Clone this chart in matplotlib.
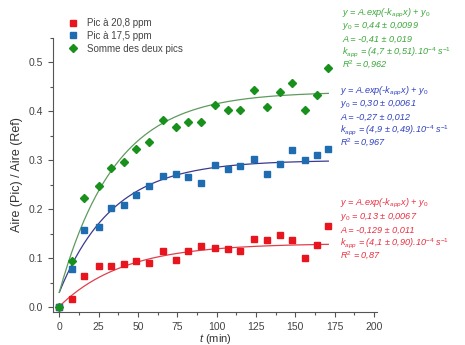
"""
Kinetics of the two NMR peaks (area ratio vs time) with exponential fits.
"""
import numpy as np
import matplotlib
matplotlib.use("Agg")
import matplotlib.pyplot as plt

plt.rcParams["font.family"] = ["Liberation Sans", "DejaVu Sans"]
plt.rcParams["mathtext.fontset"] = "custom"
plt.rcParams["mathtext.it"] = "Liberation Sans:italic"
plt.rcParams["mathtext.rm"] = "Liberation Sans"
plt.rcParams["mathtext.default"] = "it"

# Data
t_min = [0, 8, 16, 25, 33, 41, 49, 57, 66, 74, 82, 90, 99, 107, 115, 124,
         132, 140, 148, 156, 164, 171]
pic_208 = [0.0, 0.017, 0.063, 0.084, 0.084, 0.088, 0.094, 0.090, 0.114, 0.097,
           0.114, 0.125, 0.121, 0.118, 0.115, 0.139, 0.137, 0.147, 0.137,
           0.101, 0.126, 0.165]
pic_175 = [0.0, 0.077, 0.157, 0.163, 0.203, 0.209, 0.229, 0.248, 0.267, 0.271,
           0.265, 0.254, 0.291, 0.282, 0.288, 0.303, 0.271, 0.292, 0.320,
           0.301, 0.310, 0.323]
somme = [0.0, 0.094, 0.222, 0.248, 0.284, 0.296, 0.322, 0.338, 0.382, 0.368,
         0.379, 0.378, 0.412, 0.402, 0.403, 0.444, 0.408, 0.440, 0.458,
         0.403, 0.434, 0.489]

# Fit parameters y = A.exp(-k x) + y0, k in s^-1
fit_208 = dict(y0=0.13, A=-0.129, k=4.1e-4)
fit_175 = dict(y0=0.30, A=-0.27, k=4.9e-4)
fit_somme = dict(y0=0.44, A=-0.41, k=4.7e-4)

legend_labels = ["Pic à 20,8 ppm", "Pic à 17,5 ppm", "Somme des deux pics"]

txt_somme = ["y = A.exp(-k$_{app}$x) + y$_0$",
             "y$_0$ = 0,44 ± 0,0099",
             "A = -0,41 ± 0,019",
             "k$_{app}$ = (4,7 ± 0,51).10$^{-4}$ s$^{-1}$",
             "R$^2$ = 0,962"]
txt_175 = ["y = A.exp(-k$_{app}$x) + y$_0$",
           "y$_0$ = 0,30 ± 0,0061",
           "A = -0,27 ± 0,012",
           "k$_{app}$ = (4,9 ± 0,49).10$^{-4}$ s$^{-1}$",
           "R$^2$ = 0,967"]
txt_208 = ["y = A.exp(-k$_{app}$x) + y$_0$",
           "y$_0$ = 0,13 ± 0,0067",
           "A = -0,129 ± 0,011",
           "k$_{app}$ = (4,1 ± 0,90).10$^{-4}$ s$^{-1}$",
           "R$^2$ = 0,87"]

RED = "#e8141e"
BLUE = "#1f6db0"
GREEN = "#18901c"


def fit_curve(fit):
    x = np.linspace(0, 171, 200)
    return x, fit["A"] * np.exp(-fit["k"] * 60 * x) + fit["y0"]


fig = plt.figure(figsize=(4.65, 3.45), dpi=100)
ax = fig.add_axes([0.114, 0.096, 0.697, 0.794])

for fit, col in [(fit_208, "#e0404c"), (fit_175, "#3a3a90"), (fit_somme, "#5f9a5f")]:
    x, y = fit_curve(fit)
    ax.plot(x, y, color=col, lw=0.9, zorder=2)

ax.plot(t_min, pic_208, "s", color=RED, ms=4.5, ls="none", label=legend_labels[0], zorder=3)
ax.plot(t_min, pic_175, "s", color=BLUE, ms=4.5, ls="none", label=legend_labels[1], zorder=3)
ax.plot(t_min, somme, "D", color=GREEN, ms=4.5, ls="none", label=legend_labels[2], zorder=4)

ax.set_xlim(-4, 202)
ax.set_ylim(-0.01, 0.55)
ax.set_xticks(np.arange(0, 201, 25))
ax.set_xticks(np.arange(12.5, 200, 25), minor=True)
ax.set_yticks([0.0, 0.1, 0.2, 0.3, 0.4, 0.5])
ax.set_yticks([0.05, 0.15, 0.25, 0.35, 0.45, 0.55], minor=True)
ax.yaxis.set_major_formatter(matplotlib.ticker.FormatStrFormatter("%.1f"))
for s in ["top", "right"]:
    ax.spines[s].set_visible(False)
for s in ["left", "bottom"]:
    ax.spines[s].set_color("#555555")
    ax.spines[s].set_linewidth(0.8)
ax.tick_params(which="both", direction="out", colors="#555555", labelcolor="#444444",
               labelsize=7.5, width=0.8)
ax.tick_params(which="major", length=3.5)
ax.tick_params(which="minor", length=2)

ax.set_xlabel("$t$ (min)", fontsize=8, color="#333333", labelpad=0)
ax.set_ylabel("Aire (Pic) / Aire (Ref)", fontsize=9, color="#333333", labelpad=4)

ax.legend(loc="upper left", bbox_to_anchor=(0.02, 1.105), frameon=False, fontsize=7,
          handletextpad=0.9, labelspacing=0.3, handlelength=1.0, labelcolor="#444444")


def block(lines, x_px, y_px, color):
    # y_px is the baseline of the first line
    for i, s in enumerate(lines):
        fig.text(x_px / 465, 1 - (y_px + 13.3 * i) / 345, s, color=color, fontsize=6.6,
                 style="italic", va="baseline", ha="left")


block(txt_somme, 342, 15, "#3aa83a")
block(txt_175, 340, 93, "#3040c0")
block(txt_208, 340, 206, "#e83040")

fig.savefig("out.png", dpi=100)
